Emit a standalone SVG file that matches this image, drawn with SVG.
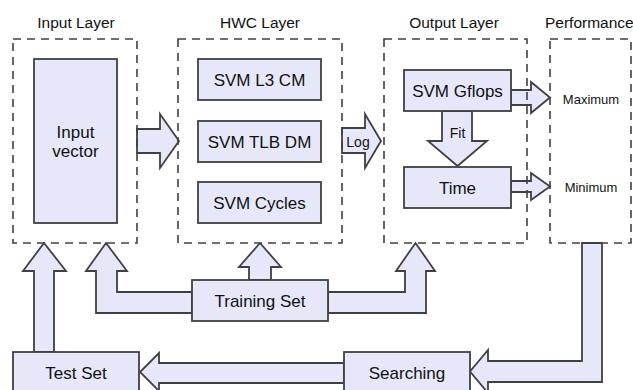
<svg xmlns="http://www.w3.org/2000/svg" width="633" height="390" viewBox="0 0 633 390">
<style>
.box{fill:#e6e8fa;stroke:#404040;stroke-width:1.8}
.arr{fill:#e6e8fa;stroke:#404040;stroke-width:1.8;stroke-linejoin:miter}
.layer{fill:none;stroke:#404040;stroke-width:1.6;stroke-dasharray:8,6}
text{font-family:"Liberation Sans",Arial,sans-serif;fill:#111;text-anchor:middle}
.t{font-size:15.5px}
.n{font-size:17px}
.s{font-size:14px}
.p{font-size:13px}
</style>
<rect width="633" height="390" fill="#fff"/>
<g id="connectors">
<polygon class="arr" points="137,129 160,129 160,114 179,141 160,168 160,153 137,153"/>
<polygon class="arr" points="342,128 365,128 365,114 381,141 365,168 365,153 342,153"/>
<polygon class="arr" points="442,111 472,111 472,141 487,141 457.5,166 428,141 442,141"/>
<polygon class="arr" points="511,90 531,90 531,82 550,97.5 531,113 531,105 511,105"/>
<polygon class="arr" points="511,181 531,181 531,173 550,186.5 531,200 531,192 511,192"/>
<polygon class="arr" points="34,352 34,271 23,271 44,243 66,271 54,271 54,352"/>
<polygon class="arr" points="192,292 117,292 117,271 127,271 106,243 86,271 96,271 96,313 192,313"/>
<polygon class="arr" points="249,280 249,267 239,267 260,243 281,267 271,267 271,280"/>
<polygon class="arr" points="328,292 405,292 405,271 396,271 415.5,243 435,271 426,271 426,313 328,313"/>
<polygon class="arr" points="582,243 602,243 602,382 488,382 488,393 470,371.5 488,350 488,361 582,361"/>
<polygon class="arr" points="344,363 159,363 159,353 140,372 159,391 159,383 344,383"/>
<text class="s" x="358" y="147">Log</text>
<text class="s" x="457.5" y="138">Fit</text>
</g>
<g id="input-layer">
<rect class="layer" x="13" y="39" width="124" height="204"/>
<text class="t" x="76" y="28">Input Layer</text>
</g>
<g id="hwc-layer">
<rect class="layer" x="178" y="39" width="164" height="204"/>
<text class="t" x="260" y="28">HWC Layer</text>
</g>
<g id="output-layer">
<rect class="layer" x="384" y="39" width="143" height="204"/>
<text class="t" x="454" y="28">Output Layer</text>
</g>
<g id="performance">
<rect class="layer" x="550" y="39" width="81" height="204"/>
<text class="t" x="545" y="28" style="text-anchor:start">Performance</text>
<text class="p" x="591" y="104">Maximum</text>
<text class="p" x="591" y="192">Minimum</text>
</g>
<g id="input-vector">
<rect class="box" x="34" y="59" width="83" height="164"/>
<text class="n" x="75.5" y="138">Input</text>
<text class="n" x="75.5" y="157">vector</text>
</g>
<g id="svm-l3-cm">
<rect class="box" x="198" y="59" width="123" height="41"/>
<text class="n" x="259.5" y="86">SVM L3 CM</text>
</g>
<g id="svm-tlb-dm">
<rect class="box" x="198" y="121" width="123" height="41"/>
<text class="n" x="259.5" y="148">SVM TLB DM</text>
</g>
<g id="svm-cycles">
<rect class="box" x="198" y="182" width="123" height="41"/>
<text class="n" x="259.5" y="209">SVM Cycles</text>
</g>
<g id="svm-gflops">
<rect class="box" x="404" y="70" width="107" height="41"/>
<text class="n" x="457.5" y="97">SVM Gflops</text>
</g>
<g id="time">
<rect class="box" x="404" y="167" width="107" height="41"/>
<text class="n" x="457.5" y="194">Time</text>
</g>
<g id="training-set">
<rect class="box" x="192" y="280" width="136" height="41"/>
<text class="n" x="260" y="307">Training Set</text>
</g>
<g id="test-set">
<rect class="box" x="13" y="352" width="126" height="42"/>
<text class="n" x="76" y="379">Test Set</text>
</g>
<g id="searching">
<rect class="box" x="344" y="352" width="126" height="42"/>
<text class="n" x="407" y="379">Searching</text>
</g>
</svg>
